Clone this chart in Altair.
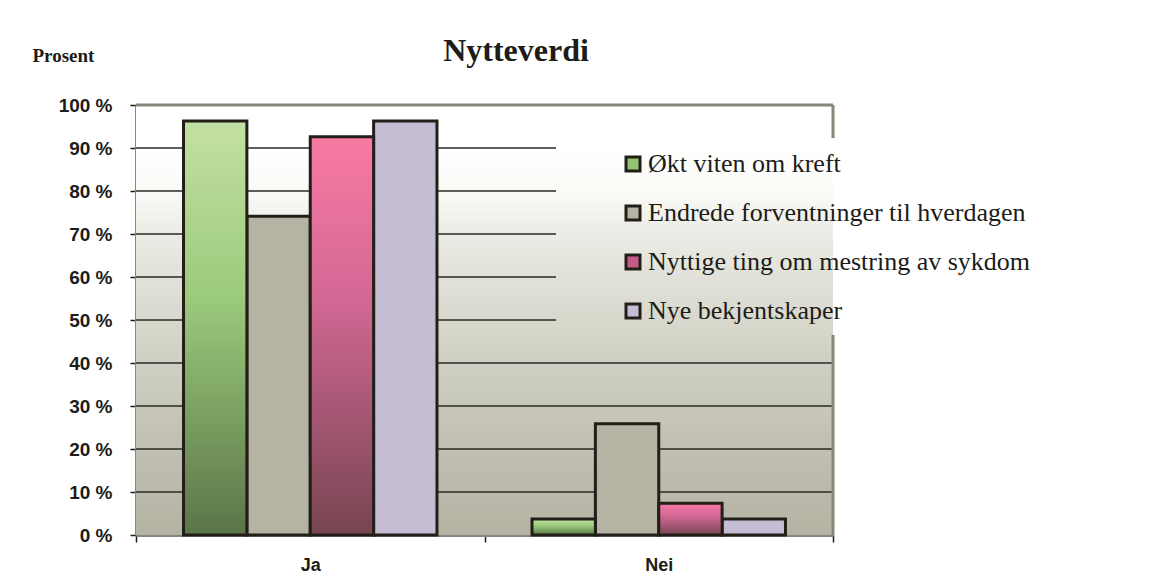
import altair as alt
import pandas as pd

CATEGORIES = ["Ja", "Nei"]
SERIES = [
    "Økt viten om kreft",
    "Endrede forventninger til hverdagen",
    "Nyttige ting om mestring av sykdom",
    "Nye bekjentskaper",
]
JA = [96.3, 74.1, 92.6, 96.3]
NEI = [3.7, 25.9, 7.4, 3.7]
Y_TICKS = [0, 10, 20, 30, 40, 50, 60, 70, 80, 90, 100]
GRID = [10, 20, 30, 40, 50, 60, 70, 80, 90]

rows = []
for s, a, b in zip(SERIES, JA, NEI):
    rows.append({"category": "Ja", "series": s, "value": a})
    rows.append({"category": "Nei", "series": s, "value": b})
df = pd.DataFrame(rows)
grid_df = pd.DataFrame({"t": GRID})

W, H = 697, 430
INK = "#1c1c18"
FRAME = "#86867a"

y_scale = alt.Scale(domain=[0, 100], nice=False, zero=True)
x_enc = alt.X(
    "category:N",
    scale=alt.Scale(domain=CATEGORIES, paddingInner=0, paddingOuter=0),
    axis=alt.Axis(
        title=None, labelAngle=0, labelFont="Liberation Sans", labelFontSize=18,
        labelFontWeight="bold", labelColor=INK, labelPadding=14, labelBaseline="top",
        tickBand="extent", tickSize=7, tickColor=INK, tickWidth=1.5,
        domainColor=FRAME, domainWidth=3, grid=False,
    ),
)
xo_enc = alt.XOffset("series:N", scale=alt.Scale(domain=SERIES, paddingOuter=0.75, paddingInner=0))
y_enc = alt.Y(
    "value:Q",
    scale=y_scale,
    axis=alt.Axis(
        values=Y_TICKS, labelExpr="datum.value + ' %'", grid=False,
        labelFont="Liberation Sans", labelFontSize=19, labelFontWeight="bold",
        labelColor=INK, labelPadding=18, tickSize=6, tickColor=INK, tickWidth=1.5,
        domainColor=FRAME, domainWidth=3,
        title="Prosent", titleAngle=0, titleX=-104, titleY=-44, titleAlign="left",
        titleBaseline="alphabetic", titleFont="Liberation Serif", titleFontSize=19,
        titleFontWeight="bold", titleColor=INK,
    ),
)

bg = alt.Chart(alt.Data(values=[{}])).mark_rect(
    fill=alt.Gradient(
        gradient="linear", x1=0, y1=0, x2=0, y2=1,
        stops=[
            alt.GradientStop(offset=0, color="#ffffff"),
            alt.GradientStop(offset=0.1, color="#ffffff"),
            alt.GradientStop(offset=0.2, color="#fafaf7"),
            alt.GradientStop(offset=0.3, color="#ececE6"),
            alt.GradientStop(offset=0.4, color="#e1e1d9"),
            alt.GradientStop(offset=0.5, color="#d8d8cd"),
            alt.GradientStop(offset=0.6, color="#cfcfc3"),
            alt.GradientStop(offset=0.7, color="#c7c7ba"),
            alt.GradientStop(offset=0.8, color="#c0bfb1"),
            alt.GradientStop(offset=0.9, color="#bab9ab"),
            alt.GradientStop(offset=1, color="#b4b3a3"),
        ],
    )
).encode(x=alt.value(0), x2=alt.value(W), y=alt.value(0), y2=alt.value(H))

grid_low = alt.Chart(grid_df).transform_filter("datum.t < 50").mark_rule(
    color="#2a2a24", strokeWidth=1.3
).encode(y=alt.Y("t:Q", scale=y_scale), x=alt.value(0), x2=alt.value(W))
grid_high = alt.Chart(grid_df).transform_filter("datum.t >= 50").mark_rule(
    color="#2a2a24", strokeWidth=1.3
).encode(y=alt.Y("t:Q", scale=y_scale), x=alt.value(0), x2=alt.value(420))

bar_style = dict(stroke="#221f18", strokeWidth=3, strokeJoin="miter")

solid = alt.Chart(df).transform_filter(
    alt.FieldOneOfPredicate(field="series", oneOf=[SERIES[1], SERIES[3]])
).mark_bar(**bar_style).encode(
    x=x_enc, xOffset=xo_enc, y=y_enc,
    color=alt.Color(
        "series:N",
        scale=alt.Scale(domain=SERIES, range=["#93c274", "#b5b3a4", "#c65a86", "#c4bdd4"]),
        legend=alt.Legend(
            title=None, orient="none", legendX=484, legendY=46, padding=0,
            symbolType="square", symbolSize=196, symbolStrokeWidth=3,
            symbolStrokeColor="#221f18", symbolOpacity=1,
            labelFont="Liberation Serif", labelFontSize=26, labelColor=INK,
            labelLimit=600, labelOffset=2, rowPadding=23,
        ),
    ),
)

green = alt.Chart(df).transform_filter(
    alt.FieldEqualPredicate(field="series", equal=SERIES[0])
).mark_bar(
    fill=alt.Gradient(
        gradient="linear", x1=0, y1=0, x2=0, y2=1,
        stops=[
            alt.GradientStop(offset=0, color="#c3e0a3"),
            alt.GradientStop(offset=0.42, color="#9ccb7c"),
            alt.GradientStop(offset=1, color="#5a7548"),
        ],
    ),
    **bar_style,
).encode(x=x_enc, xOffset=xo_enc, y=y_enc)

pink = alt.Chart(df).transform_filter(
    alt.FieldEqualPredicate(field="series", equal=SERIES[2])
).mark_bar(
    fill=alt.Gradient(
        gradient="linear", x1=0, y1=0, x2=0, y2=1,
        stops=[
            alt.GradientStop(offset=0, color="#f87aa3"),
            alt.GradientStop(offset=0.4, color="#d36895"),
            alt.GradientStop(offset=1, color="#774551"),
        ],
    ),
    **bar_style,
).encode(x=x_enc, xOffset=xo_enc, y=y_enc)

one = alt.Data(values=[{}])
top_border = alt.Chart(one).mark_rule(color=FRAME, strokeWidth=3).encode(
    x=alt.value(0), x2=alt.value(W), y=alt.value(0)
)
right_a = alt.Chart(one).mark_rule(color=FRAME, strokeWidth=3).encode(
    x=alt.value(W), y=alt.value(0), y2=alt.value(33)
)
right_b = alt.Chart(one).mark_rule(color=FRAME, strokeWidth=3).encode(
    x=alt.value(W), y=alt.value(230), y2=alt.value(H)
)
title = alt.Chart(one).mark_text(
    text="Nytteverdi", font="Liberation Serif", fontSize=32, fontWeight="bold",
    color=INK, align="center", baseline="alphabetic",
).encode(x=alt.value(380), y=alt.value(-44))

chart = alt.layer(
    bg, grid_low, grid_high, solid, green, pink, top_border, right_a, right_b, title
).properties(
    width=W, height=H,
    autosize=alt.AutoSizeParams(type="none"),
    padding={"left": 128, "top": 97, "right": 330, "bottom": 38},
    background="white",
).configure_view(stroke=None)

chart.save("out.html", embed_options={"renderer": "svg", "actions": False})
